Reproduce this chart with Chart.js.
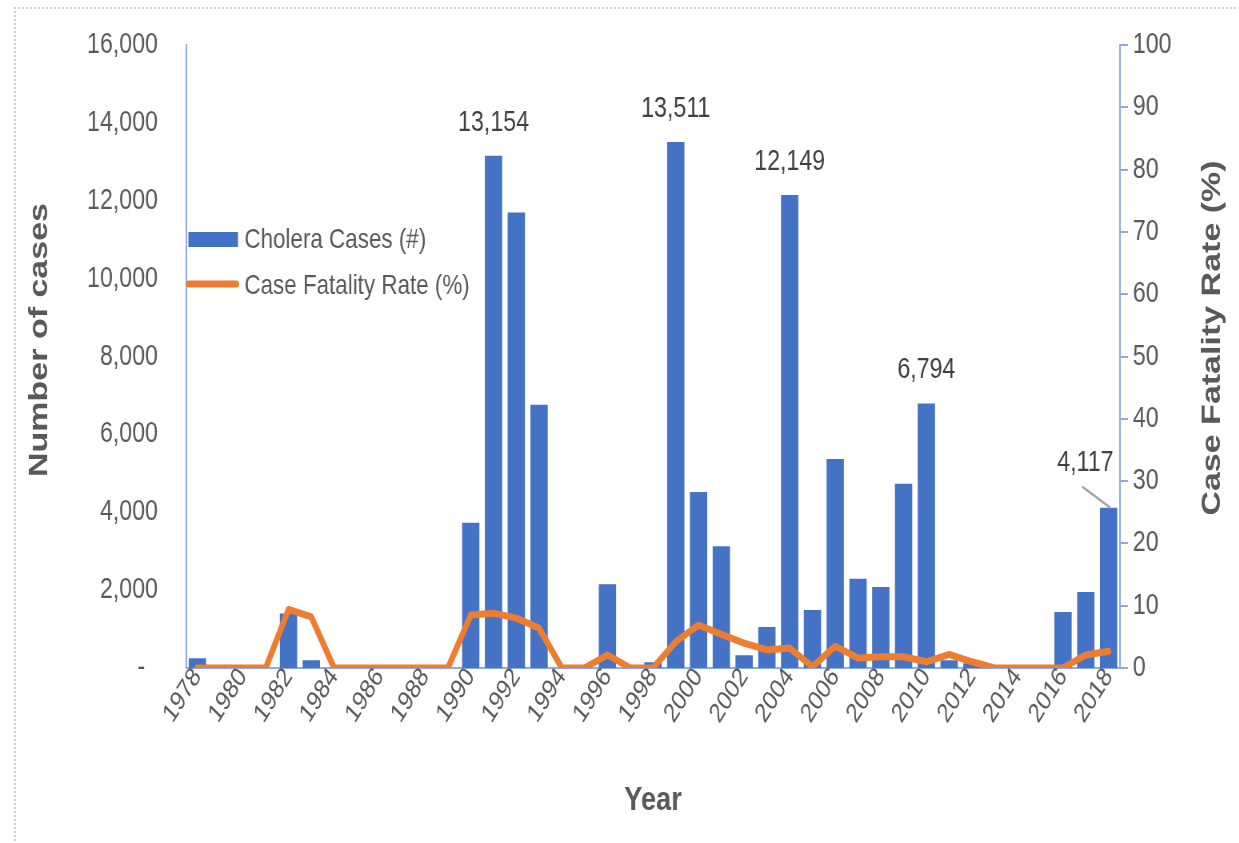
<!DOCTYPE html>
<html>
<head>
<meta charset="utf-8">
<script src="https://cdn.jsdelivr.net/npm/chart.js@4.4.0/dist/chart.umd.min.js"></script>
<style>
    html, body { margin: 0; padding: 0; background: #fff; overflow: hidden; }
    /* the source picture is squeezed sideways, so draw wide and squeeze it back */
    #wrap { position: absolute; left: 0; top: 0; width: 1549px; height: 843px; transform: scaleX(0.8); transform-origin: 0 0; }
    #frame { position: absolute; left: 14px; top: 7px; width: 1300px; height: 900px; border-left: 2px dotted #d2d2d2; border-top: 2px dotted #d2d2d2; pointer-events: none; }
</style>
</head>
<body>
<div id="wrap"><canvas id="choleraChart" width="1549" height="843"></canvas></div>
<div id="frame"></div>
<script>
// years on the x axis
const years = ['1978', '1979', '1980', '1981', '1982', '1983', '1984', '1985', '1986', '1987',
    '1988', '1989', '1990', '1991', '1992', '1993', '1994', '1995', '1996', '1997',
    '1998', '1999', '2000', '2001', '2002', '2003', '2004', '2005', '2006', '2007',
    '2008', '2009', '2010', '2011', '2012', '2013', '2014', '2015', '2016', '2017', '2018'];

// cholera cases (#), left axis
const choleraCases = [250, 0, 0, 0, 1400, 200, 0, 0, 0, 0,
    0, 0, 3730, 13154, 11700, 6760, 0, 0, 2150, 0,
    150, 13511, 4520, 3130, 330, 1050, 12149, 1490, 5370, 2290,
    2080, 4730, 6794, 200, 120, 0, 0, 0, 1440, 1950, 4117];

// case fatality rate (%), right axis
const fatalityRate = [0, 0, 0, 0, 9.4, 8.2, 0, 0, 0, 0,
    0, 0, 8.5, 8.8, 8.0, 6.4, 0, 0, 2.1, 0,
    0, 4.2, 6.9, 5.4, 4.0, 2.9, 3.2, 0.2, 3.5, 1.6,
    1.8, 1.8, 1.0, 2.2, 1.0, 0, 0, 0, 0, 2.1, 2.7];

// years whose bar carries a value label
const labelledYears = ['1991', '1999', '2004', '2010', '2018'];

const casesLabel = 'Cholera Cases (#)';
const rateLabel = 'Case Fatality Rate (%)';

const textGrey = '#595959';
const axisBlue = '#8FAADC';
const barBlue = '#4472C4';
const lineOrange = '#ED7D31';
const fontFamily = "'Liberation Sans', Arial, sans-serif";

Chart.defaults.font.family = fontFamily;

// value labels over the peak bars
const barLabels = {
    id: 'barLabels',
    afterDatasetsDraw(chart) {
        const ctx = chart.ctx;
        const bars = chart.getDatasetMeta(1).data;
        ctx.save();
        ctx.font = '29px ' + fontFamily;
        ctx.fillStyle = '#404040';
        ctx.textAlign = 'center';
        ctx.textBaseline = 'middle';
        labelledYears.forEach(year => {
            const i = years.indexOf(year);
            const bar = bars[i];
            const text = choleraCases[i].toLocaleString('en-US');
            if (i === years.length - 1) {
                // last bar: label pushed left with a leader line
                ctx.strokeStyle = '#A6A6A6';
                ctx.lineWidth = 2.5;
                ctx.beginPath();
                ctx.moveTo(bar.x - 33, bar.y - 21);
                ctx.lineTo(bar.x + 2, bar.y);
                ctx.stroke();
                ctx.fillText(text, bar.x - 29, bar.y - 45);
            } else {
                ctx.fillText(text, bar.x, bar.y - 33);
            }
        });
        ctx.restore();
    }
};

// legend inside the plot, top left
const insideLegend = {
    id: 'insideLegend',
    afterDraw(chart) {
        const ctx = chart.ctx;
        const left = chart.chartArea.left;
        ctx.save();
        ctx.fillStyle = barBlue;
        ctx.fillRect(left + 3, 232, 62, 15);

        ctx.strokeStyle = lineOrange;
        ctx.lineWidth = 7;
        ctx.lineCap = 'round';
        ctx.beginPath();
        ctx.moveTo(left + 3, 284);
        ctx.lineTo(left + 63, 284);
        ctx.stroke();

        ctx.font = '28px ' + fontFamily;
        ctx.fillStyle = textGrey;
        ctx.textAlign = 'left';
        ctx.textBaseline = 'middle';
        ctx.fillText(casesLabel, left + 73, 240);
        ctx.fillText(rateLabel, left + 73, 286);
        ctx.restore();
    }
};

// axis titles (the right one reads bottom to top like the left one)
const axisTitles = {
    id: 'axisTitles',
    afterDraw(chart) {
        const ctx = chart.ctx;
        const area = chart.chartArea;
        ctx.save();
        ctx.font = 'bold 34px ' + fontFamily;
        ctx.fillStyle = textGrey;
        ctx.textAlign = 'center';
        ctx.textBaseline = 'middle';

        ctx.fillText('Year', (area.left + area.right) / 2, 801);

        ctx.translate(50, 340);
        ctx.rotate(-Math.PI / 2);
        ctx.fillText('Number of cases', 0, 0);
        ctx.restore();

        ctx.save();
        ctx.font = 'bold 34px ' + fontFamily;
        ctx.fillStyle = textGrey;
        ctx.textAlign = 'center';
        ctx.textBaseline = 'middle';
        ctx.translate(1516, 338);
        ctx.rotate(-Math.PI / 2);
        ctx.fillText('Case Fatality Rate (%)', 0, 0);
        ctx.restore();
    }
};

const data = {
    labels: years,
    datasets: [{
        type: 'line',
        label: rateLabel,
        data: fatalityRate,
        yAxisID: 'y1',
        borderColor: lineOrange,
        backgroundColor: lineOrange,
        borderWidth: 7,
        borderJoinStyle: 'round',
        borderCapStyle: 'round',
        pointRadius: 0,
        tension: 0,
        order: 0
    },
    {
        type: 'bar',
        label: casesLabel,
        data: choleraCases,
        yAxisID: 'y',
        backgroundColor: barBlue,
        barPercentage: 0.76,
        categoryPercentage: 1,
        order: 1
    }]
};

const config = {
    data: data,
    options: {
        responsive: false,
        animation: false,
        devicePixelRatio: 1,
        layout: {
            padding: { top: 45, left: 0, right: 0, bottom: 0 }
        },
        plugins: {
            legend: { display: false },
            tooltip: { enabled: false }
        },
        scales: {
            x: {
                grid: { display: false, drawTicks: false },
                border: { display: true, color: axisBlue, width: 2 },
                ticks: {
                    autoSkip: false,
                    minRotation: 52,
                    maxRotation: 52,
                    padding: -6,
                    color: textGrey,
                    font: { size: 27 },
                    callback: function (value, index) {
                        return index % 2 === 0 ? years[index] : '';
                    }
                },
                afterFit: function (scale) {
                    scale.height = 175;
                }
            },
            y: {
                position: 'left',
                min: 0,
                max: 16000,
                grid: { display: false, drawTicks: false },
                border: { display: true, color: axisBlue, width: 2 },
                ticks: {
                    stepSize: 2000,
                    padding: 35,
                    color: textGrey,
                    font: { size: 29 },
                    callback: function (value) {
                        return value === 0 ? '-  ' : value.toLocaleString('en-US');
                    }
                },
                afterFit: function (scale) {
                    scale.width = 232.5;
                    // tick padding would otherwise push the plot top down
                    scale.paddingTop = 10;
                    scale.paddingBottom = 10;
                }
            },
            y1: {
                position: 'right',
                min: 0,
                max: 100,
                grid: {
                    display: true,
                    drawOnChartArea: false,
                    drawTicks: true,
                    tickLength: 10,
                    color: axisBlue,
                    lineWidth: 2
                },
                border: { display: true, color: axisBlue, width: 2 },
                ticks: {
                    stepSize: 10,
                    padding: 6,
                    color: textGrey,
                    font: { size: 29 }
                },
                afterFit: function (scale) {
                    scale.width = 149;
                    scale.paddingTop = 10;
                    scale.paddingBottom = 10;
                }
            }
        }
    },
    plugins: [barLabels, insideLegend, axisTitles]
};

const choleraChart = new Chart(
    document.getElementById('choleraChart'),
    config
);
</script>
</body>
</html>
